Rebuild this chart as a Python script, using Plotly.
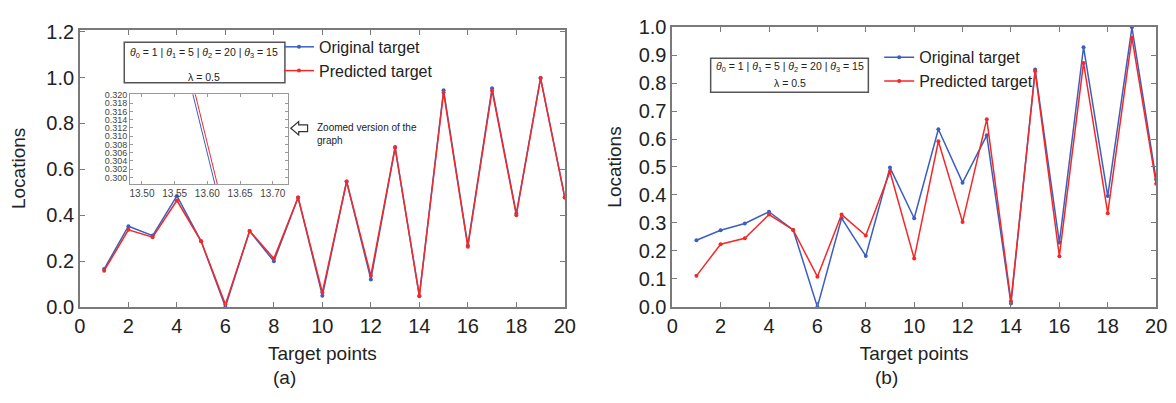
import plotly.graph_objects as go

W, H = 1176, 403

# ---------------- data ----------------
target_points = list(range(1, 21))

a_original = [0.165, 0.352, 0.311, 0.484, 0.286, 0.000, 0.331, 0.199, 0.477, 0.049,
              0.547, 0.120, 0.694, 0.047, 0.945, 0.268, 0.954, 0.407, 0.998, 0.477]
a_predicted = [0.158, 0.336, 0.304, 0.464, 0.286, 0.011, 0.331, 0.211, 0.477, 0.063,
               0.547, 0.136, 0.697, 0.049, 0.935, 0.262, 0.944, 0.400, 0.998, 0.477]

b_original = [0.238, 0.274, 0.298, 0.340, 0.275, 0.000, 0.317, 0.182, 0.498, 0.317,
              0.635, 0.444, 0.613, 0.012, 0.848, 0.230, 0.928, 0.396, 0.999, 0.455]
b_predicted = [0.111, 0.224, 0.245, 0.330, 0.275, 0.108, 0.330, 0.255, 0.483, 0.173,
               0.592, 0.303, 0.671, 0.020, 0.842, 0.181, 0.872, 0.335, 0.962, 0.440]

x_ticks = [0, 2, 4, 6, 8, 10, 12, 14, 16, 18, 20]
a_y_ticks = [0.0, 0.2, 0.4, 0.6, 0.8, 1.0, 1.2]
b_y_ticks = [0.0, 0.1, 0.2, 0.3, 0.4, 0.5, 0.6, 0.7, 0.8, 0.9, 1.0]
inset_x_ticks = [13.50, 13.55, 13.60, 13.65, 13.70]
inset_y_ticks = [0.300, 0.302, 0.304, 0.306, 0.308, 0.310, 0.312, 0.314, 0.316, 0.318, 0.320]

BLUE = "#3b5fc0"
RED = "#f52828"
FRAME = "#7a7a7a"
FONT = "Arial"


def px(x):
    return x / W


def py(y):
    return 1 - y / H


fig = go.Figure()

def add_pair(orig, pred, xa, ya, legend, show):
    fig.add_trace(go.Scatter(x=target_points, y=orig, mode="lines+markers", name="Original target",
                             line=dict(color=BLUE, width=1.5), marker=dict(size=4, color=BLUE),
                             xaxis=xa, yaxis=ya, legend=legend, showlegend=show, cliponaxis=False))
    fig.add_trace(go.Scatter(x=target_points, y=pred, mode="lines+markers", name="Predicted target",
                             line=dict(color=RED, width=1.5), marker=dict(size=4, color=RED),
                             xaxis=xa, yaxis=ya, legend=legend, showlegend=show, cliponaxis=False))

add_pair(a_original, a_predicted, "x", "y", "legend", True)
add_pair(b_original, b_predicted, "x2", "y2", "legend2", True)
# inset: same series of panel (a), zoomed
fig.add_trace(go.Scatter(x=target_points, y=a_original, mode="lines", line=dict(color=BLUE, width=1),
                         xaxis="x3", yaxis="y3", showlegend=False))
fig.add_trace(go.Scatter(x=target_points, y=a_predicted, mode="lines", line=dict(color=RED, width=1),
                         xaxis="x3", yaxis="y3", showlegend=False))

axis_common = dict(showline=True, linecolor=FRAME, linewidth=1.5, mirror="allticks",
                   ticks="inside", ticklen=5, tickcolor=FRAME, tickwidth=1.2,
                   showgrid=False, zeroline=False,
                   tickfont=dict(family=FONT, size=20, color="#222"))

fig.update_layout(
    width=W, height=H,
    margin=dict(l=0, r=0, t=0, b=0),
    paper_bgcolor="white", plot_bgcolor="white",
    font=dict(family=FONT, color="#222"),
    xaxis=dict(domain=[px(75), px(567)], range=[0, 20], tickvals=x_ticks, anchor="y",
               title=dict(text="Target points", font=dict(family=FONT, size=19), standoff=11),
               **axis_common),
    yaxis=dict(domain=[py(313), py(20)], range=[0, 1.208], tickvals=a_y_ticks, tickformat=".1f", anchor="x",
               title=dict(text="Locations", font=dict(family=FONT, size=19), standoff=16),
               **axis_common),
    xaxis2=dict(domain=[px(676), px(1167)], range=[0, 20], tickvals=x_ticks, anchor="y2",
                title=dict(text="Target points", font=dict(family=FONT, size=19), standoff=11),
                **axis_common),
    yaxis2=dict(domain=[py(313), py(17)], range=[0, 1.0], tickvals=b_y_ticks, tickformat=".1f", anchor="x2",
                title=dict(text="Locations", font=dict(family=FONT, size=19), standoff=12),
                **axis_common),
    xaxis3=dict(domain=[px(126), px(286)], range=[13.482, 13.723], tickvals=inset_x_ticks, tickformat=".2f",
                anchor="y3", showline=True, linecolor="#999", linewidth=1, mirror="allticks",
                ticks="inside", ticklen=3, tickcolor="#999", showgrid=False, zeroline=False,
                tickfont=dict(family=FONT, size=10, color="#444")),
    yaxis3=dict(domain=[py(183), py(88)], range=[0.2984, 0.3202], tickvals=inset_y_ticks, tickformat=".3f",
                anchor="x3", showline=True, linecolor="#999", linewidth=1, mirror="allticks",
                ticks="inside", ticklen=3, tickcolor="#999", showgrid=False, zeroline=False,
                tickfont=dict(family=FONT, size=9, color="#444")),
    legend=dict(x=px(277), y=py(20), xanchor="left", yanchor="top", bgcolor="rgba(0,0,0,0)",
                font=dict(family=FONT, size=16, color="#222"), itemwidth=30, tracegroupgap=0),
    legend2=dict(x=px(886), y=py(31), xanchor="left", yanchor="top", bgcolor="rgba(0,0,0,0)",
                 font=dict(family=FONT, size=16, color="#222"), itemwidth=30, tracegroupgap=0),
)

theta = ("<i>θ</i><sub>0</sub> = 1 | <i>θ</i><sub>1</sub> = 5 | "
         "<i>θ</i><sub>2</sub> = 20 | <i>θ</i><sub>3</sub> = 15")

shapes = [
    dict(type="rect", xref="paper", yref="paper", x0=px(120), x1=px(283), y0=py(76), y1=py(33),
         line=dict(color="#555", width=1.5)),
    dict(type="rect", xref="paper", yref="paper", x0=px(715), x1=px(875), y0=py(86), y1=py(50),
         line=dict(color="#555", width=1.5)),
]
arrow = [(289, 124), (297, 117), (297, 120.5), (306, 120.5), (306, 127.5), (297, 127.5), (297, 131)]
path = "M" + " L".join(f"{px(a):.5f},{py(b):.5f}" for a, b in arrow) + " Z"
shapes.append(dict(type="path", xref="paper", yref="paper", path=path, line=dict(color="#333", width=1.2)))


def ann(text, x, y, size, xanchor="center", align="center"):
    return dict(text=text, x=px(x), y=py(y), xref="paper", yref="paper", showarrow=False,
                xanchor=xanchor, yanchor="middle", align=align,
                font=dict(family=FONT, size=size, color="#222"))


annotations = [
    ann(theta, 201, 44, 10.5),
    ann("λ = 0.5", 201, 70, 10.5),
    ann(theta, 795, 59, 10.5),
    ann("λ = 0.5", 795, 76, 10.5),
    ann("Zoomed version of the<br>graph", 314, 130, 10, xanchor="left", align="left"),
    ann("(a)", 283, 388, 19),
    ann("(b)", 893, 388, 19),
]
fig.update_layout(shapes=shapes, annotations=annotations)

fig.write_html("out.html")
